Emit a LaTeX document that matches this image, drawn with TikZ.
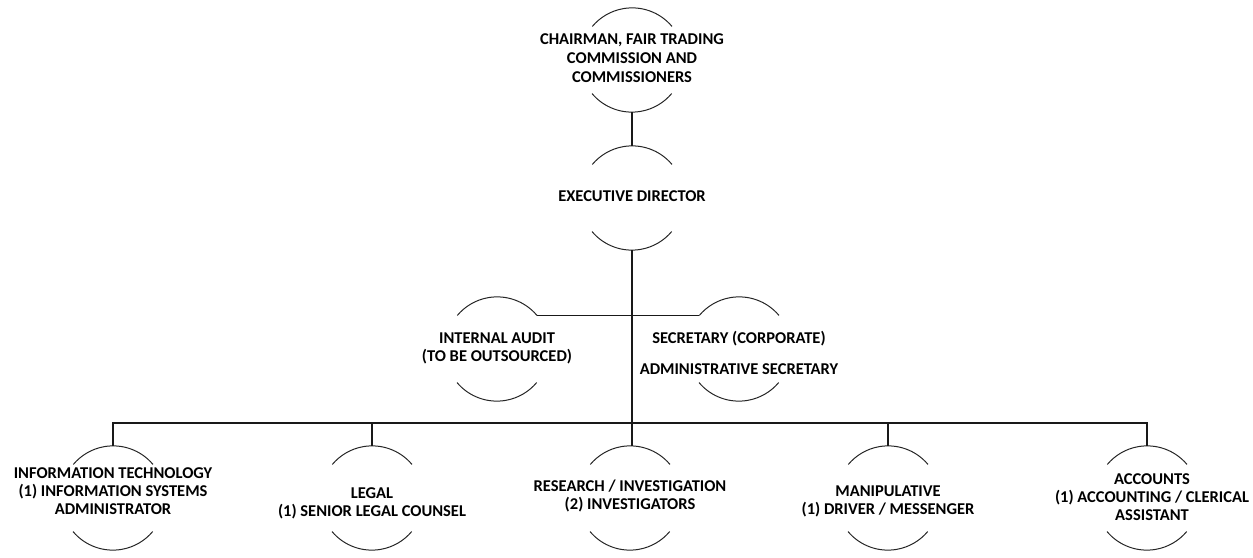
\documentclass[tikz,border=0pt]{standalone}
\usepackage{fontspec}
\setmainfont{Carlito}
% #1 = horizontal shift, #2 = vertical shift (up), #3 = lines
\newcommand\otext[3]{\makebox[0pt]{\hspace*{#1}\hspace*{#1}\raisebox{\dimexpr#2-0.25em\relax}[0pt][0pt]{\begin{tabular}{@{}c@{}}#3\end{tabular}}}}
\begin{document}
\begin{tikzpicture}[x=1pt,y=1pt,
  org/.style={circle, minimum size=104pt, inner sep=0pt, font=\bfseries\fontsize{16.5}{18}\selectfont},
  arcline/.style={line width=1pt, black!85},
  conn/.style={line width=1.2pt, black!90}]
\useasboundingbox (0,0) rectangle (1253,557);
\node[org, font=\bfseries\fontsize{16.5}{19}\selectfont] (chair) at (632,497) {\otext{0pt}{0pt}{CHAIRMAN, FAIR TRADING\\COMMISSION AND\\COMMISSIONERS}};
\node[org] (exec) at (632,359) {\otext{0pt}{0pt}{EXECUTIVE DIRECTOR}};
\node[org] (audit) at (497,208) {\otext{0pt}{0pt}{INTERNAL AUDIT\\(TO BE OUTSOURCED)}};
\node[org] (sec) at (739,208) {\otext{0pt}{-7pt}{SECRETARY (CORPORATE)\\[13pt]ADMINISTRATIVE SECRETARY}};
\node[org] (it) at (113,59) {\otext{0pt}{5pt}{INFORMATION TECHNOLOGY\\(1) INFORMATION SYSTEMS\\ADMINISTRATOR}};
\node[org] (legal) at (372,59) {\otext{0pt}{-6pt}{LEGAL\\(1) SENIOR LEGAL COUNSEL}};
\node[org] (res) at (630,59) {\otext{0pt}{1pt}{RESEARCH / INVESTIGATION\\(2) INVESTIGATORS}};
\node[org] (manip) at (888,59) {\otext{0pt}{-4pt}{MANIPULATIVE\\(1) DRIVER / MESSENGER}};
\node[org] (acc) at (1147,59) {\otext{5pt}{-1pt}{ACCOUNTS\\(1) ACCOUNTING / CLERICAL\\ASSISTANT}};
\foreach \n in {chair,exec,audit,sec,it,legal,res,manip,acc}
  \draw[arcline] (\n.40) arc[start angle=40,end angle=140,radius=52pt]
                 (\n.220) arc[start angle=220,end angle=320,radius=52pt];
\coordinate (bus) at (630,134);
\draw[conn] (chair.south) -- (exec.north);
\draw[conn] (exec.south) -- (exec.south |- res.north);
\draw[conn] (audit.40) -- (audit.40 -| sec.140);
\draw[conn] (it.north) |- (bus) -| (acc.north);
\draw[conn] (legal.north) -- (legal.north |- bus);
\draw[conn] (manip.north) -- (manip.north |- bus);
\end{tikzpicture}
\end{document}
